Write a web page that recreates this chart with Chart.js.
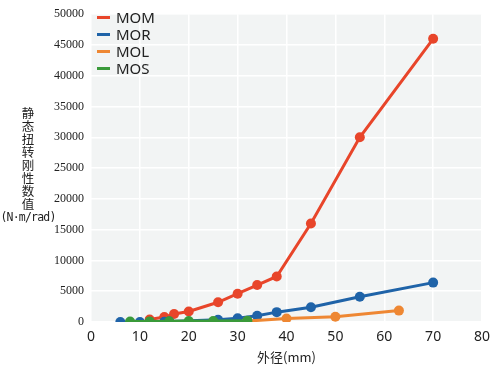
<!DOCTYPE html>
<html lang="zh">
<head>
<meta charset="UTF-8">
<title>静态扭转刚性数值</title>
<script src="https://cdnjs.cloudflare.com/ajax/libs/Chart.js/4.4.0/chart.umd.min.js"></script>
<style>
  html, body { margin: 0; padding: 0; background: #fff; }
  #wrap { position: relative; width: 490px; height: 365px; }
  #ytitle {
    position: absolute; left: 0; top: 106px; width: 56px;
    font-family: "Noto Sans CJK SC", sans-serif; font-size: 12.5px; line-height: 13px;
    color: #222; text-align: center;
  }
  #ytitle .unit { display: block; margin-top: 0; line-height: 15px;
    font-family: "DejaVu Sans Mono", monospace; font-size: 11.5px; letter-spacing: -0.8px; }
  #legend {
    position: absolute; left: 97px; top: 9px;
    font-family: "Noto Sans", sans-serif; font-size: 15px; color: #222;
  }
  #legend div { height: 17px; line-height: 17px; display: flex; align-items: center; }
  #legend span.bar { display: inline-block; width: 13px; height: 3px; margin-right: 6px; }
</style>
</head>
<body>
<div id="wrap">
  <canvas id="c" width="490" height="365"></canvas>
  <div id="ytitle">静<br>态<br>扭<br>转<br>刚<br>性<br>数<br>值<span class="unit">(N·m/rad)</span></div>
  <div id="legend"></div>
</div>
<script>
// 外径(mm) / 静态扭转刚性数值
const momX = [12, 15, 17, 20, 26, 30, 34, 38, 45, 55, 70];
const momY = [400, 800, 1300, 1700, 3200, 4600, 6000, 7400, 16000, 30000, 46000];
const morX = [6, 10, 15, 16, 26, 30, 34, 38, 45, 55, 70];
const morY = [0, 0, 50, 100, 350, 600, 1000, 1600, 2400, 4100, 6400];
const molX = [32, 40, 50, 63];
const molY = [150, 550, 850, 1850];
const mosX = [8, 12, 16, 20, 25, 32];
const mosY = [80, 100, 120, 150, 150, 200];

const names = ['MOM', 'MOR', 'MOL', 'MOS'];
const colors = ['#e8452a', '#1f63a8', '#ee8733', '#3a9a3a'];
const xTicks = [0, 10, 20, 30, 40, 50, 60, 70, 80];

function pts(xs, ys) { return xs.map((x, i) => ({ x: x, y: ys[i] })); }
const series = [pts(momX, momY), pts(morX, morY), pts(molX, molY), pts(mosX, mosY)];

const bgPlugin = {
  id: 'plotBg',
  beforeDraw(chart) {
    const a = chart.chartArea, ctx = chart.ctx;
    ctx.save();
    ctx.fillStyle = '#f2f4f4';
    ctx.fillRect(a.left, a.top, a.right - a.left, a.bottom - a.top);
    ctx.restore();
  }
};

new Chart(document.getElementById('c'), {
  type: 'line',
  data: {
    datasets: series.map((d, i) => ({
      label: names[i],
      data: d,
      borderColor: colors[i],
      backgroundColor: colors[i],
      borderWidth: 3,
      pointRadius: 5,
      pointBorderWidth: 0,
      tension: 0,
      order: 4 - i + 1
    }))
  },
  options: {
    responsive: false,
    animation: false,
    layout: { padding: { left: 51, top: 7, right: 8, bottom: 0 } },
    plugins: { legend: { display: false }, tooltip: { enabled: false } },
    scales: {
      x: {
        type: 'linear', min: 0, max: 80,
        afterBuildTicks(s) { s.ticks = xTicks.map(v => ({ value: v })); },
        afterFit(s) { s.height = 43; s.paddingRight = 0; s.paddingLeft = 0; },
        grid: { color: '#ffffff', lineWidth: 1.5, drawTicks: false },
        border: { display: false },
        ticks: { padding: 7, color: '#222', font: { family: 'Noto Sans', size: 14 } },
        title: { display: true, text: '外径(mm)', color: '#222', padding: 0,
                 font: { family: 'Noto Sans CJK SC', size: 13 } }
      },
      y: {
        min: 0, max: 50000,
        ticks: { stepSize: 5000, padding: 7, color: '#222',
                 callback: v => String(v),
                 font: { family: 'Liberation Sans Narrow', size: 12 } },
        afterFit(s) { s.width = 40; },
        grid: { color: '#ffffff', lineWidth: 1.5, drawTicks: false },
        border: { display: false }
      }
    }
  },
  plugins: [bgPlugin]
});

const lg = document.getElementById('legend');
names.forEach((n, i) => {
  const row = document.createElement('div');
  row.innerHTML = '<span class="bar" style="background:' + colors[i] + '"></span>' + n;
  lg.appendChild(row);
});
</script>
</body>
</html>
